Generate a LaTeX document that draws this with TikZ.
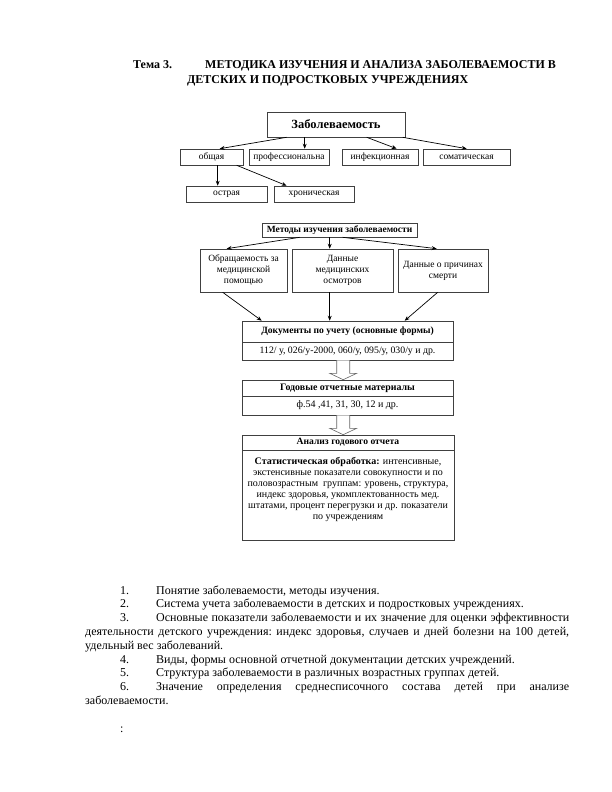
\documentclass[tikz,border=0pt]{standalone}
\usepackage{fontspec}
\setmainfont{Liberation Serif}
\usetikzlibrary{arrows.meta,calc}
\tikzset{
  box/.style={draw=black!75, line width=0.6pt, rectangle, inner sep=0pt, align=center, font=\fontsize{9.5}{11}\selectfont},
  wbox/.style={box, font=\fontsize{9.8}{11}\selectfont},
  hbox/.style={box, font=\fontsize{9.6}{11}\selectfont\bfseries},
  arr/.style={-{Stealth[length=5pt,width=4pt]}, line width=0.7pt, black},
  hollow/.style={draw=black!60, line width=0.6pt, fill=white},
  titletext/.style={font=\fontsize{12}{14}\selectfont\bfseries, inner sep=0pt, anchor=base west},
}
\begin{document}
\begin{tikzpicture}[x=1pt,y=-1pt]
\useasboundingbox (0,0) rectangle (612,792);
% title
\node[titletext] (t1) at (133,69) {Тема 3.};
\node[titletext] (t2) at (205,69) {МЕТОДИКА ИЗУЧЕНИЯ И АНАЛИЗА ЗАБОЛЕВАЕМОСТИ В};
\node[titletext] (t3) at (187,83) {ДЕТСКИХ И ПОДРОСТКОВЫХ УЧРЕЖДЕНИЯХ};
% top tree
\node[box, minimum width=138pt, minimum height=25pt, font=\fontsize{12.5}{14}\selectfont\bfseries] (zab) at (336,124.5) {Заболеваемость};
\node[box, minimum width=63pt, minimum height=16pt] (obsh) at (211.5,157) {общая};
\node[box, minimum width=80pt, minimum height=16pt] (prof) at (289,157) {профессиональна};
\node[box, minimum width=76pt, minimum height=16pt] (inf) at (380,157) {инфекционная};
\node[box, minimum width=87pt, minimum height=16pt] (som) at (466.5,157) {соматическая};
\node[box, minimum width=81pt, minimum height=16pt] (ostr) at (226.5,194) {острая};
\node[box, minimum width=80pt, minimum height=16pt] (hron) at (314,194) {хроническая};
\draw[arr] ($(zab.south west)+(20,0)$) -- ($(obsh.north west)+(40,0)$);
\draw[arr] ($(zab.south west)+(38,0)$) -- ($(prof.north west)+(56,0)$);
\draw[arr] ($(zab.south west)+(100,0)$) -- ($(inf.north west)+(55,0)$);
\draw[arr] ($(zab.south west)+(136,0)$) -- ($(som.north west)+(44,0)$);
\draw[arr] ($(obsh.south west)+(38,0)$) -- ($(ostr.north west)+(32,0)$);
\draw[arr] ($(obsh.south west)+(57,0)$) -- ($(hron.north west)+(13,0)$);
% methods
\node[box, minimum width=155pt, minimum height=14pt, font=\fontsize{9.5}{11}\selectfont\bfseries] (met) at (339.5,230) {Методы изучения заболеваемости};
\node[box, minimum width=87pt, minimum height=43pt] (m1) at (243.5,270.5) {Обращаемость за\\медицинской\\помощью};
\node[box, minimum width=101pt, minimum height=43pt] (m2) at (342.5,270.5) {Данные\\медицинских\\осмотров};
\node[box, minimum width=90pt, minimum height=43pt] (m3) at (443,270.5) {Данные о причинах\\смерти};
\draw[arr] ($(met.south west)+(38,0)$) -- ($(m1.north west)+(27,0)$);
\draw[arr] ($(met.south west)+(68,0)$) -- ($(m2.north west)+(38,0)$);
\draw[arr] ($(met.south west)+(81,0)$) -- ($(m3.north west)+(39,0)$);
% documents
\node[hbox, minimum width=211pt, minimum height=21pt] (doch) at (347.5,331.5) {Документы по учету (основные формы)};
\node[wbox, minimum width=211pt, minimum height=18pt] (docb) at (347.5,351) {112/ у, 026/у-2000, 060/у, 095/у, 030/у и др.};
\draw[arr] ($(m1.south west)+(23,0)$) -- ($(doch.north west)+(20,0)$);
\draw[arr] ($(m2.south west)+(38,0)$) -- ($(doch.north west)+(88,0)$);
\draw[arr] ($(m3.south west)+(40,0)$) -- ($(doch.north west)+(163,0)$);
% annual
\node[hbox, minimum width=211pt, minimum height=16pt, font=\fontsize{9.9}{11}\selectfont\bfseries] (godh) at (347.5,388) {Годовые отчетные материалы};
\node[wbox, minimum width=211pt, minimum height=19pt, font=\fontsize{10}{11}\selectfont] (godb) at (347.5,405.5) {ф.54 ,41, 31, 30, 12 и др.};
\draw[hollow] ($(docb.south west)+(95,0)$) -- ($(docb.south west)+(95,13)$) -- ($(docb.south west)+(88,13)$) -- ($(godh.north west)+(101.5,0)$) -- ($(docb.south west)+(115,13)$) -- ($(docb.south west)+(108,13)$) -- ($(docb.south west)+(108,0)$);
% analysis
\node[hbox, minimum width=212pt, minimum height=15pt] (anh) at (348,442.5) {Анализ годового отчета};
\node[box, minimum width=212pt, minimum height=90pt] (anb) at (348,495) {};
\node[inner sep=0pt, anchor=north, align=center, font=\fontsize{10}{11}\selectfont] (antext) at ($(anb.north)+(0,7)$) {\textbf{Статистическая обработка:} интенсивные,\\экстенсивные показатели совокупности и по\\половозрастным\ \ группам: уровень, структура,\\индекс здоровья, укомплектованность мед.\\штатами, процент перегрузки и др. показатели\\по учреждениям};
\draw[hollow] ($(godb.south west)+(95,0)$) -- ($(godb.south west)+(95,13)$) -- ($(godb.south west)+(88,13)$) -- ($(anh.north west)+(101.5,0)$) -- ($(godb.south west)+(115,13)$) -- ($(godb.south west)+(108,13)$) -- ($(godb.south west)+(108,0)$);
% list
\node[inner sep=0pt, anchor=north west, text width=484pt, align=justify, font=\fontsize{12}{13.8}\selectfont] (list) at (85,584.3) {%
\parindent=0pt\parskip=0pt\tolerance=9999\emergencystretch=20pt\frenchspacing
\strut\hspace*{35pt}\makebox[36pt][l]{1.}Понятие заболеваемости, методы изучения.\par
\hspace*{35pt}\makebox[36pt][l]{2.}Система учета заболеваемости в детских и подростковых учреждениях.\par
\hspace*{35pt}\makebox[36pt][l]{3.}Основные показатели заболеваемости и их значение для оценки эффективности\linebreak деятельности детского учреждения: индекс здоровья, случаев и дней болезни на 100 детей,\linebreak удельный вес заболеваний.\par
\hspace*{35pt}\makebox[36pt][l]{4.}Виды, формы основной отчетной документации детских учреждений.\par
\hspace*{35pt}\makebox[36pt][l]{5.}Структура заболеваемости в различных возрастных группах детей.\par
\hspace*{35pt}\makebox[36pt][l]{6.}Значение определения среднесписочного состава детей при анализе\linebreak заболеваемости.\par
\mbox{}\par
\hspace*{35pt}:\par};
\end{tikzpicture}
\end{document}
